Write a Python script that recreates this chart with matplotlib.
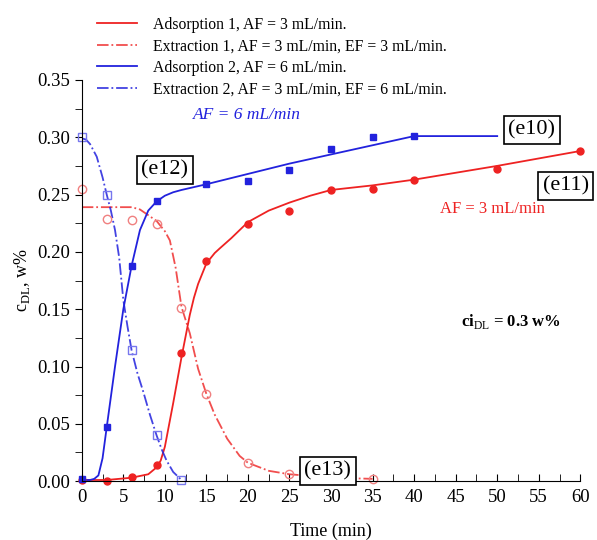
import numpy as np
import matplotlib.pyplot as plt
from matplotlib.ticker import MultipleLocator

plt.rcParams['font.family'] = ['Liberation Serif', 'DejaVu Serif']
plt.rcParams['mathtext.fontset'] = 'custom'
plt.rcParams['mathtext.rm'] = 'Liberation Serif'

# measured points
t_ads1 = [0, 3, 6, 9, 12, 15, 20, 25, 30, 35, 40, 50, 60]
c_ads1 = [0.001, 0.0, 0.0035, 0.014, 0.112, 0.192, 0.224, 0.236, 0.254, 0.255, 0.263, 0.272, 0.288]
t_ext1 = [0, 3, 6, 9, 12, 15, 20, 25, 30, 35]
c_ext1 = [0.255, 0.229, 0.228, 0.224, 0.151, 0.076, 0.0155, 0.006, 0.003, 0.002]
t_ads2 = [0, 3, 6, 9, 15, 20, 25, 30, 35, 40]
c_ads2 = [0.002, 0.047, 0.188, 0.244, 0.259, 0.262, 0.271, 0.290, 0.300, 0.301]
t_ext2 = [0, 3, 6, 9, 12]
c_ext2 = [0.300, 0.250, 0.114, 0.040, 0.001]

# fitted curves
tf_ads1 = [0, 3, 6, 8, 9, 9.5, 10, 11, 12, 13, 13.5, 14, 15, 16, 16.6, 18, 20, 22.5, 25, 27.5, 30, 35, 40, 50, 60]
cf_ads1 = [0.001, 0.001, 0.003, 0.006, 0.012, 0.018, 0.030, 0.068, 0.108, 0.145, 0.160, 0.172, 0.190, 0.199, 0.203, 0.212, 0.226, 0.236, 0.243, 0.249, 0.254, 0.258, 0.263, 0.275, 0.288]
tf_ext1 = [0, 3, 6, 7, 7.8, 9, 10, 10.6, 11.3, 12, 13, 14, 15, 16, 17.5, 19, 20, 22.5, 25, 30, 35]
cf_ext1 = [0.239, 0.239, 0.239, 0.237, 0.233, 0.227, 0.218, 0.210, 0.186, 0.152, 0.129, 0.098, 0.076, 0.058, 0.037, 0.022, 0.016, 0.009, 0.006, 0.003, 0.002]
tf_ads2 = [0, 1, 1.5, 2, 2.5, 3, 4, 5, 6, 7, 8, 9, 10, 11, 12, 15, 20, 25, 30, 35, 40, 50]
cf_ads2 = [0.001, 0.001, 0.002, 0.005, 0.020, 0.047, 0.100, 0.150, 0.188, 0.219, 0.236, 0.244, 0.249, 0.252, 0.254, 0.259, 0.268, 0.277, 0.285, 0.293, 0.301, 0.301]
tf_ext2 = [0, 0.5, 1, 1.8, 2.5, 3, 3.5, 4, 4.5, 5, 5.5, 6, 6.7, 7.4, 8.2, 9, 9.6, 10.2, 11, 12]
cf_ext2 = [0.299, 0.298, 0.294, 0.283, 0.265, 0.250, 0.236, 0.219, 0.195, 0.158, 0.135, 0.114, 0.094, 0.078, 0.058, 0.040, 0.028, 0.018, 0.008, 0.001]

red = '#ee2222'
blue = '#2222dd'

fig = plt.figure(figsize=(5.97, 5.40), dpi=100)
ax = fig.add_axes([0.137, 0.109, 0.835, 0.743])

l1, = ax.plot(tf_ads1, cf_ads1, color=red, lw=1.3, label='Adsorption 1, AF = 3 mL/min.')
l2, = ax.plot(tf_ext1, cf_ext1, color=red, lw=1.3, ls='-.', alpha=0.8,
              label='Extraction 1, AF = 3 mL/min, EF = 3 mL/min.')
l3, = ax.plot(tf_ads2, cf_ads2, color=blue, lw=1.3, label='Adsorption 2, AF = 6 mL/min.')
l4, = ax.plot(tf_ext2, cf_ext2, color=blue, lw=1.3, ls='-.', alpha=0.85,
              label='Extraction 2, AF = 3 mL/min, EF = 6 mL/min.')

ax.plot(t_ads1, c_ads1, 'o', color=red, ms=5, clip_on=False)
ax.plot(t_ext1, c_ext1, 'o', mfc='none', mec='#f08080', ms=6, mew=1.0, clip_on=False)
ax.plot(t_ads2, c_ads2, 's', color=blue, ms=5, clip_on=False)
ax.plot(t_ext2, c_ext2, 's', mfc='none', mec='#7777ee', ms=6, mew=1.0, clip_on=False)

ax.set_xlim(0, 60)
ax.set_ylim(0, 0.35)
ax.xaxis.set_major_locator(MultipleLocator(5))
ax.xaxis.set_minor_locator(MultipleLocator(2.5))
ax.yaxis.set_major_locator(MultipleLocator(0.05))
ax.yaxis.set_minor_locator(MultipleLocator(0.025))
ax.yaxis.set_major_formatter(plt.FormatStrFormatter('%.2f'))
ax.spines['top'].set_visible(False)
ax.spines['right'].set_visible(False)
ax.tick_params(axis='x', which='both', direction='in', length=5, labelsize=13.5, pad=6)
ax.tick_params(axis='y', which='both', direction='out', length=5, labelsize=13.5)

ax.set_xlabel('Time (min)', fontsize=13, labelpad=12)
ax.set_ylabel(r'c$_{\rm DL}$, w%', fontsize=13, labelpad=4)

ax.text(19.9, 0.319, 'AF = 6 mL/min', color=blue, fontsize=12.5, style='italic',
        ha='center', va='center')
ax.text(49.4, 0.237, 'AF = 3 mL/min', color=red, fontsize=12, ha='center', va='center')
ax.text(51.7, 0.139, r'ci$_{\rm DL}$ = 0.3 w%', fontsize=12, fontweight='bold',
        ha='center', va='center')

fig.legend(handles=[l1, l2, l3, l4], loc='upper left', bbox_to_anchor=(0.138, 0.995),
           frameon=False, fontsize=11.3, handlelength=2.6, labelspacing=0.35,
           handletextpad=1.0)

box = dict(boxstyle='square,pad=0.2', fc='white', ec='black', lw=1.2)
for label, x, y in [('(e10)', 0.891, 0.759), ('(e11)', 0.948, 0.656),
                    ('(e12)', 0.276, 0.685), ('(e13)', 0.549, 0.128)]:
    fig.text(x, y, label, fontsize=16, ha='center', va='center', bbox=box, zorder=10)

fig.savefig('out.png', dpi=100)
